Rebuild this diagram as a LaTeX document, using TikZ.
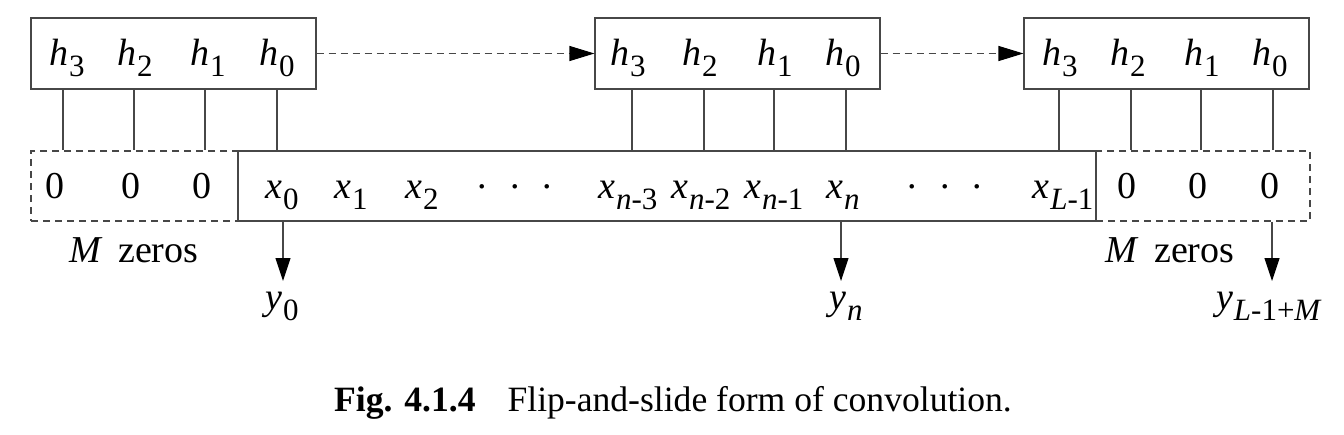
\documentclass[tikz,border=0pt]{standalone}
\usepackage{fontspec}
\setmainfont{Liberation Serif}
\newfontfamily\serifrm{Liberation Serif}
\usetikzlibrary{arrows.meta}
\newcommand\vv[2]{\textit{#1}\kern0.02em\raisebox{-0.3em}{\fontsize{15.5}{16}\selectfont #2}}
\newcommand\ii[1]{\textit{#1}}
\newcommand\mydots{\raisebox{0.26em}{.\hspace{0.6em}.\hspace{0.6em}.}}
\begin{document}
\begin{tikzpicture}[x=0.5pt,y=-0.5pt,
  ln/.style={draw=black!72, line width=0.55pt},
  dsh/.style={ln, dash pattern=on 3.5pt off 2.5pt},
  hbox/.style={ln, minimum width=142.5pt, minimum height=35.5pt, inner sep=0pt},
  lab/.style={font=\serifrm\fontsize{19}{20}\selectfont, inner sep=0pt, anchor=base},
  tri/.style={-{Triangle[length=12.5pt,width=7.5pt,color=black]}},
  dtri/.style={-{Triangle[length=11.5pt,width=7.5pt,color=black]}}]
\useasboundingbox (0,0) rectangle (1344,434);
% top boxes
\node[hbox] (b1) at (173.5,53.5) {};
\node[hbox] (b2) at (737.5,53.5) {};
\node[hbox] (b3) at (1166.5,53.5) {};
% bottom row
\node[dsh, minimum width=103.5pt, minimum height=35pt, inner sep=0pt] (zl) at (134.5,186) {};
\node[dsh, minimum width=107pt, minimum height=35pt, inner sep=0pt] (zr) at (1203,186) {};
\node[ln, minimum width=429pt, minimum height=35pt, inner sep=0pt] (xr) at (667,186) {};
% h labels
\node[lab] (h13) at (67,65) {\vv{h}{3}};
\node[lab] (h12) at (135,65) {\vv{h}{2}};
\node[lab] (h11) at (208,65) {\vv{h}{1}};
\node[lab] (h10) at (277,65) {\vv{h}{0}};
\node[lab] (h23) at (628,65) {\vv{h}{3}};
\node[lab] (h22) at (700,65) {\vv{h}{2}};
\node[lab] (h21) at (775,65) {\vv{h}{1}};
\node[lab] (h20) at (843,65) {\vv{h}{0}};
\node[lab] (h33) at (1060,65) {\vv{h}{3}};
\node[lab] (h32) at (1128,65) {\vv{h}{2}};
\node[lab] (h31) at (1202,65) {\vv{h}{1}};
\node[lab] (h30) at (1270,65) {\vv{h}{0}};
% tap coordinates
\foreach \n/\x in {t13/63,t12/134,t11/205,t10/277,t23/632,t22/704,t21/774,t20/846,t33/1059,t32/1131,t31/1201,t30/1273}
  \coordinate (\n) at (\x,0);
\foreach \b/\t in {b1/t13,b1/t12,b1/t11,b1/t10,b2/t23,b2/t22,b2/t21,b2/t20,b3/t33,b3/t32,b3/t31,b3/t30}
  \draw[ln] (\t |- \b.south) -- (\t |- xr.north);
% dashed slide arrows
\draw[dsh, tri] (b1.east) -- (b2.west);
\draw[dsh, tri] (b2.east) -- (b3.west);
% row contents
\node[lab] (z1) at (55,198) {0};
\node[lab] (z2) at (131,198) {0};
\node[lab] (z3) at (202,198) {0};
\node[lab] (x0) at (282,198) {\vv{x}{0}};
\node[lab] (x1) at (351,198) {\vv{x}{1}};
\node[lab] (x2) at (422,198) {\vv{x}{2}};
\node[lab] (d1) at (515,198) {\mydots};
\node[lab] (xn3) at (628,198) {\vv{x}{\ii{n}-3}};
\node[lab] (xn2) at (701,198) {\vv{x}{\ii{n}-2}};
\node[lab] (xn1) at (774,198) {\vv{x}{\ii{n}-1}};
\node[lab] (xn) at (843,198) {\vv{x}{\ii{n}}};
\node[lab] (d2) at (945,198) {\mydots};
\node[lab] (xl) at (1063,198) {\vv{x}{\ii{L}-1}};
\node[lab] (z4) at (1127,198) {0};
\node[lab] (z5) at (1198,198) {0};
\node[lab] (z6) at (1270,198) {0};
% M zeros
\node[lab] (mz1) at (134,262) {\ii{M}\hspace{0.4em}zeros};
\node[lab] (mz2) at (1170,262) {\ii{M}\hspace{0.4em}zeros};
% outputs
\coordinate (o0) at (283,0);
\coordinate (on) at (841,0);
\coordinate (oL) at (1272,0);
\node[lab] (y0) at (282,309) {\vv{y}{0}};
\node[lab] (yn) at (846,309) {\vv{y}{\ii{n}}};
\node[lab] (yL) at (1269,309) {\vv{y}{\ii{L}-1+\ii{M}}};
\draw[ln, dtri] (o0 |- xr.south) -- (o0 |- 0,281);
\draw[ln, dtri] (on |- xr.south) -- (on |- 0,281);
\draw[ln, dtri] (oL |- zr.south) -- (oL |- 0,281);
% caption
\node[inner sep=0pt, anchor=base, font=\serifrm\fontsize{17.8}{19}\selectfont] (cap) at (673,411) {\textbf{Fig. 4.1.4}\hspace{0.9em}Flip-and-slide form of convolution.};
\end{tikzpicture}
\end{document}
